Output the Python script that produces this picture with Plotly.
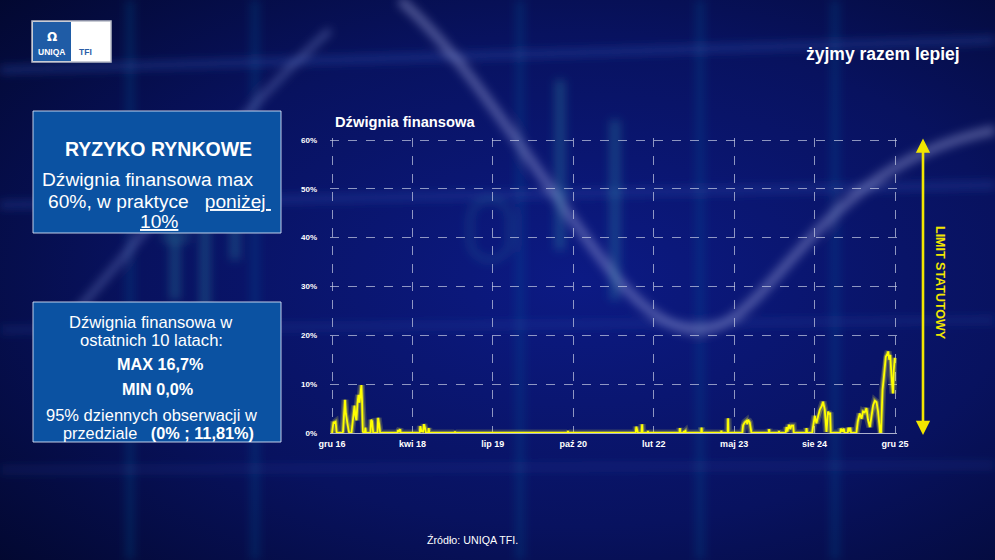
import base64
import numpy as np
import pandas as pd
import plotly.graph_objects as go

W, H = 995, 560

# Dźwignia finansowa [%] - punkty
dates = [
    "2016-12-20", "2016-12-24", "2016-12-29", "2017-01-02", "2017-01-10", "2017-01-16", "2017-01-20",
    "2017-02-20", "2017-02-23", "2017-02-28", "2017-03-06", "2017-03-11", "2017-03-17", "2017-03-23",
    "2017-03-29", "2017-04-02", "2017-04-13", "2017-04-19", "2017-04-25", "2017-05-01", "2017-05-06",
    "2017-05-12", "2017-05-18", "2017-05-24", "2017-05-30", "2017-06-05", "2017-06-10", "2017-06-14",
    "2017-06-18", "2017-06-24", "2017-06-30", "2017-07-03", "2017-07-07", "2017-08-02", "2017-08-06",
    "2017-08-12", "2017-08-18", "2017-09-12", "2017-09-16", "2017-09-22", "2017-09-28",
    "2018-01-06", "2018-01-11", "2018-01-16", "2018-01-22", "2018-01-27",
    "2018-05-17", "2018-05-21", "2018-05-27", "2018-06-06", "2018-06-11", "2018-06-17", "2018-06-23",
    "2018-07-05", "2018-07-09", "2018-07-13", "2018-12-06", "2018-12-10", "2018-12-14",
    "2020-09-27", "2020-10-01", "2020-10-05",
    "2021-11-01", "2021-11-05", "2021-11-09", "2021-11-15", "2021-12-05", "2021-12-09", "2021-12-12",
    "2022-01-09", "2022-01-12", "2022-01-15", "2022-07-15", "2022-07-18", "2022-07-22",
    "2022-08-08", "2022-08-10", "2022-08-14", "2022-08-20", "2022-08-23",
    "2022-11-19", "2022-11-22", "2022-11-25",
    "2023-03-15", "2023-03-18", "2023-03-21", "2023-04-24", "2023-04-26", "2023-04-28",
    "2023-07-18", "2023-07-23", "2023-08-02", "2023-08-12", "2023-08-17", "2023-08-21", "2023-08-31",
    "2023-09-06", "2023-09-10", "2023-12-19", "2023-12-22", "2023-12-26",
    "2024-02-15", "2024-02-18", "2024-02-21", "2024-03-28", "2024-04-02", "2024-04-07", "2024-04-17",
    "2024-04-24", "2024-05-01", "2024-05-11", "2024-05-15", "2024-07-25", "2024-07-28", "2024-08-01",
    "2024-08-30", "2024-09-06", "2024-09-15", "2024-09-24", "2024-10-02", "2024-10-14", "2024-10-25",
    "2024-11-02", "2024-11-12", "2024-11-19", "2024-11-22", "2024-12-01", "2024-12-08", "2024-12-13",
    "2024-12-17",
    "2025-02-10", "2025-02-14", "2025-02-23", "2025-03-03", "2025-03-08", "2025-03-26", "2025-03-30",
    "2025-04-05", "2025-04-10", "2025-04-15", "2025-05-16", "2025-05-24", "2025-06-05", "2025-06-15",
    "2025-06-24", "2025-07-04", "2025-07-14", "2025-07-23", "2025-08-03", "2025-08-12", "2025-08-22",
    "2025-09-01", "2025-09-11", "2025-09-20", "2025-09-27", "2025-10-02", "2025-10-07", "2025-10-16",
    "2025-10-24", "2025-11-04", "2025-11-13", "2025-11-18", "2025-11-24", "2025-11-30", "2025-12-08",
    "2025-12-16", "2025-12-21", "2025-12-27",
]
leverage = [
    0, 1.5, 2.3, 2.1, 2.3, 0.2, 0,
    0, 0.4, 3.5, 6.8, 4.0, 3.0, 1.4,
    0.2, 0, 0.1, 2.0, 4.5, 5.6, 3.5,
    2.6, 6.0, 7.8, 6.2, 8.0, 9.8, 6.5,
    0.3, 0, 0, 1.1, 0, 0, 2.7,
    2.4, 0, 0, 3.1, 1.8, 0,
    0, 0.6, 0.2, 0.8, 0,
    0, 1.4, 0.4, 0.3, 1.8, 1.1, 0,
    0, 1.0, 0, 0, 0.3, 0,
    0, 0.4, 0,
    0, 1.3, 0.4, 0, 0, 1.8, 0,
    0, 0.4, 0, 0, 1.0, 0,
    0, 0.4, 0.2, 0.4, 0,
    0, 1.1, 0,
    0, 0.5, 0, 0, 3.0, 0,
    0, 1.6, 2.2, 2.5, 1.8, 2.7, 2.2,
    0.8, 0, 0, 0.8, 0,
    0, 0.4, 0, 0, 1.2, 0.3, 1.7,
    0.8, 1.5, 1.5, 0, 0, 1.0, 0,
    0, 1.6, 3.5, 2.0, 3.0, 4.8, 5.5,
    6.4, 4.8, 1.5, 0.2, 4.4, 3.8, 4.2,
    0,
    0, 0.9, 0.3, 0.9, 0, 0, 1.1,
    0.3, 1.1, 0, 0, 2.3, 4.0, 2.9,
    4.4, 4.2, 5.1, 2.7, 1.2, 3.5, 5.7,
    6.6, 6.3, 4.4, 2.0, 0.1, 0, 8.8,
    11.5, 15.6, 16.2, 16.7, 15.0, 16.0, 11.5,
    8.1, 13.0, 15.4,
]

x_labels = ["gru 16", "kwi 18", "lip 19", "paź 20", "lut 22", "maj 23", "sie 24", "gru 25"]
y_ticks = [0, 10, 20, 30, 40, 50, 60]


def px(x):
    return x / W


def py(y):
    return 1 - y / H


# tło - rozmyty "giełdowy" obrazek
bg_svg = """<svg xmlns="http://www.w3.org/2000/svg" width="995" height="560" viewBox="0 0 995 560">
<defs>
<radialGradient id="g" cx="0.58" cy="0.5" r="0.8">
<stop offset="0" stop-color="#0c1a84"/>
<stop offset="0.55" stop-color="#08125f"/>
<stop offset="1" stop-color="#02072c"/>
</radialGradient>
<filter id="b" x="-20%" y="-20%" width="140%" height="140%"><feGaussianBlur stdDeviation="5"/></filter>
</defs>
<rect width="995" height="560" fill="url(#g)"/>
<g filter="url(#b)" fill="none">
<path d="M0 70 L995 40" stroke="#2c4fb0" stroke-width="7" opacity="0.45"/>
<path d="M0 205 L995 185" stroke="#2c4fb0" stroke-width="7" opacity="0.4"/>
<path d="M0 330 L995 320" stroke="#2c4fb0" stroke-width="6" opacity="0.3"/>
<path d="M0 470 L995 465" stroke="#2c4fb0" stroke-width="6" opacity="0.25"/>
<path d="M130 0 V560 M255 0 V560 M520 0 V560 M700 0 V560 M835 0 V560" stroke="#1f5fa0" stroke-width="7" opacity="0.3"/>
<path d="M60 330 C150 230 230 120 330 30" stroke="#7f8fd0" stroke-width="6" opacity="0.45"/>
<path d="M400 0 C470 60 540 180 610 270 C650 320 690 345 730 320 C790 280 840 160 995 130" stroke="#a8aee0" stroke-width="9" opacity="0.45"/>
<path d="M175 150 V300 M205 170 V330 M235 130 V260 M560 80 V250 M615 120 V300" stroke="#3aa0b0" stroke-width="10" opacity="0.3"/>
<rect x="165" y="190" width="22" height="50" stroke="#3aa0b0" stroke-width="5" opacity="0.3"/>
<rect x="225" y="160" width="22" height="60" stroke="#3aa0b0" stroke-width="5" opacity="0.3"/>
<rect x="470" y="200" width="40" height="60" rx="20" stroke="#3aa0b0" stroke-width="6" opacity="0.2"/>
</g>
</svg>"""
bg_uri = "data:image/svg+xml;base64," + base64.b64encode(bg_svg.encode("utf-8")).decode("ascii")

x_start = pd.Timestamp("2016-12-20")
x_end = pd.Timestamp("2025-12-28")
tick_pos = pd.to_datetime(np.linspace(x_start.value, x_end.value, len(x_labels)))
# 2 px zapasu, żeby linie siatki na brzegach nie znikały
pad = (x_end - x_start) / (895 - 332) * 2
y_top = 60 + 60 / (433 - 140) * 2

fig = go.Figure()
x_vals = pd.to_datetime(dates)
# poświata linii
fig.add_trace(go.Scatter(x=x_vals, y=leverage, mode="lines",
                         line=dict(color="rgba(255,255,80,0.18)", width=7), hoverinfo="skip"))
fig.add_trace(go.Scatter(x=x_vals, y=leverage, mode="lines",
                         line=dict(color="rgba(255,255,40,0.35)", width=4), hoverinfo="skip"))
fig.add_trace(go.Scatter(x=x_vals, y=leverage, mode="lines",
                         line=dict(color="#ffff00", width=1.8), hoverinfo="skip"))

FONT = "Liberation Sans, Arial, sans-serif"

fig.update_layout(
    width=W, height=H,
    margin=dict(l=0, r=0, t=0, b=0, autoexpand=False),
    paper_bgcolor="#07105a",
    plot_bgcolor="rgba(0,0,0,0)",
    showlegend=False,
    hovermode=False,
    font=dict(family=FONT, color="white"),
    xaxis=dict(
        domain=[px(330), px(897)],
        type="date",
        range=[x_start - pad, x_end + pad],
        tickmode="array", tickvals=tick_pos, ticktext=x_labels,
        tickfont=dict(size=9, color="white", family=FONT, weight="bold"),
        showgrid=True, griddash="dash", gridcolor="rgba(200,205,230,0.7)", gridwidth=1,
        showline=True, linecolor="rgba(200,205,225,0.85)", linewidth=1,
        zeroline=False, ticks="", ticklabelstandoff=2,
    ),
    yaxis=dict(
        domain=[py(433), py(138)],
        range=[0, y_top],
        tickmode="array", tickvals=y_ticks, ticktext=[f"{v}%" for v in y_ticks],
        tickfont=dict(size=8, color="white", family=FONT, weight="bold"),
        showgrid=True, griddash="dash", gridcolor="rgba(200,205,230,0.7)", gridwidth=1,
        zeroline=False, ticks="", ticklabelstandoff=12,
    ),
    images=[dict(source=bg_uri, xref="paper", yref="paper", x=0, y=1,
                 sizex=1, sizey=1, sizing="stretch", layer="below")],
)

shapes = []
# ramki z tekstem
for y0, y1 in [(111, 233), (302, 442)]:
    shapes.append(dict(type="rect", xref="paper", yref="paper",
                       x0=px(33), x1=px(281), y0=py(y1), y1=py(y0),
                       fillcolor="#0b52a2", line=dict(color="rgba(215,225,245,0.9)", width=1)))
# logo
shapes.append(dict(type="rect", xref="paper", yref="paper", x0=px(32), x1=px(111), y0=py(62), y1=py(21),
                   fillcolor="white", line=dict(color="#b8bcc8", width=1.5)))
shapes.append(dict(type="rect", xref="paper", yref="paper", x0=px(33), x1=px(71), y0=py(61), y1=py(22),
                   fillcolor="#1f5ca6", line=dict(width=0)))
fig.update_layout(shapes=shapes)


def txt(x, y, s, size, color="white", bold=False, anchor="center", angle=0, family=FONT):
    fig.add_annotation(x=px(x), y=py(y), xref="paper", yref="paper", text=s, showarrow=False,
                       xanchor=anchor, yanchor="middle", textangle=angle,
                       font=dict(size=size, color=color, family=family,
                                 weight="bold" if bold else "normal"))


nb = "\u00a0"
# logo
txt(51.5, 37, "Ω", 12, bold=True, family="DejaVu Sans")
txt(51.5, 52, "UNIQA", 8.5, bold=True)
txt(85.5, 52, "TFI", 8.5, color="#2a5ea8", bold=True)
txt(883, 54, "żyjmy razem lepiej", 17.5, bold=True)

# ramka 1
txt(158, 149, "RYZYKO RYNKOWE", 19.5, bold=True)
txt(148, 180, "Dźwignia finansowa max", 19.2)
txt(159, 201, "60%, w praktyce" + nb * 3 + "<u>poniżej" + nb + "</u>", 19.2)
txt(159, 222, "<u>10%</u>", 19.2)

# ramka 2
txt(151, 322, "Dźwignia finansowa w", 16.6)
txt(151, 340, "ostatnich 10 latach:", 16.6)
txt(160, 364, "MAX 16,7%", 16.2, bold=True)
txt(157, 389, "MIN 0,0%", 16.2, bold=True)
txt(151, 415, "95% dziennych obserwacji w", 16.5)
txt(158, 433, "przedziale" + nb * 3 + "<b>(0% ; 11,81%)</b>", 16.3)

# wykres
txt(333, 122, "Dźwignia finansowa", 14.7, bold=True, anchor="left")
txt(940, 283, "LIMIT STATUTOWY", 12.5, color="#f2e600", bold=True, angle=90)
txt(472, 540, "Źródło: UNIQA TFI.", 10.7)

# strzałka limitu statutowego
fig.add_annotation(x=px(923), y=py(435), xref="paper", yref="paper", text="",
                   showarrow=True, ax=0, ay=-298, axref="pixel", ayref="pixel",
                   arrowside="end+start", arrowhead=2, arrowsize=1.1, arrowwidth=2.6,
                   arrowcolor="#f2e600", standoff=0, startstandoff=0)

fig.write_html("out.html", config={"displayModeBar": False},
               post_script="document.body.style.margin='0';")
